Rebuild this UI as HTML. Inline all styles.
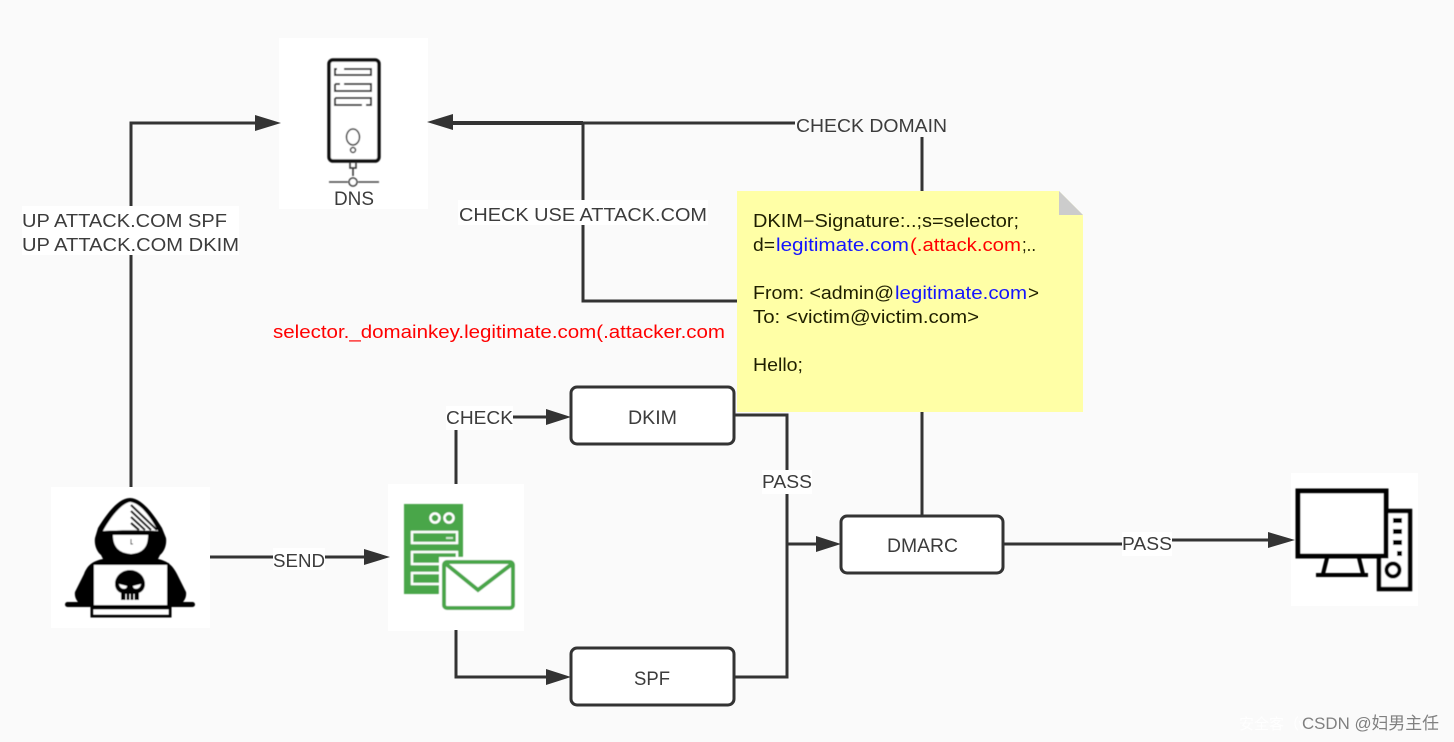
<!DOCTYPE html>
<html>
<head>
<meta charset="utf-8">
<style>
html,body{margin:0;padding:0;background:#fafafa;width:1454px;height:742px;overflow:hidden}
svg{display:block}
text{font-family:"Liberation Sans","Noto Sans CJK SC",sans-serif;font-size:18px;fill:#3c3c3c}
.l{fill:none;stroke:#333;stroke-width:3}
.b{fill:#fff;stroke:#333;stroke-width:3}
.n{fill:#1f1f00}
.u{fill:#1414ff}
.r{fill:#f00}
</style>
</head>
<body>
<svg width="1454" height="742" viewBox="0 0 1454 742" xmlns="http://www.w3.org/2000/svg">
<defs><filter id="s" x="-5%" y="-5%" width="110%" height="110%"><feGaussianBlur stdDeviation="0.45"/></filter></defs>
<rect width="1454" height="742" fill="#fafafa"/>

<!-- image backgrounds -->
<rect x="279" y="38" width="149" height="171" fill="#fff"/>
<rect x="51" y="487" width="159" height="141" fill="#fff"/>
<rect x="388" y="484" width="136" height="147" fill="#fff"/>
<rect x="1291" y="473" width="127" height="133" fill="#fff"/>

<!-- connectors -->
<path class="l" d="M131 487V123H258"/>
<path d="M281 123L255 115V131Z" fill="#333"/>
<path class="l" d="M922 191V123H450"/>
<path class="l" d="M737 301H583V123"/>
<path d="M583 123H450" stroke="#333" stroke-width="4" fill="none"/>
<path d="M427 122L453 114V130Z" fill="#333"/>
<path class="l" d="M210 557H368"/>
<path d="M390 557L364 549V565Z" fill="#333"/>
<path class="l" d="M456 484V417H550"/>
<path d="M571 417L546 409V425Z" fill="#333"/>
<path class="l" d="M456 630V677H550"/>
<path d="M571 677L546 669V685Z" fill="#333"/>
<path class="l" d="M734 415H787V677H734"/>
<path class="l" d="M787 544H820"/>
<path d="M841 544L816 536V552Z" fill="#333"/>
<path class="l" d="M922 412V516"/>
<path class="l" d="M1003 544H1147M1147 540H1272"/>
<path d="M1295 540L1268 532V548Z" fill="#333"/>

<!-- boxes -->
<rect class="b" x="571" y="387" width="163" height="57" rx="6"/>
<rect class="b" x="571" y="648" width="163" height="57" rx="6"/>
<rect class="b" x="841" y="516" width="162" height="57" rx="6"/>
<text x="628" y="424" textLength="49" lengthAdjust="spacingAndGlyphs" style="font-size:19px">DKIM</text>
<text x="634" y="685" textLength="36" lengthAdjust="spacingAndGlyphs" style="font-size:19px">SPF</text>
<text x="887" y="552" textLength="71" lengthAdjust="spacingAndGlyphs" style="font-size:19px">DMARC</text>

<!-- note -->
<path d="M737 191H1059L1083 215V412H737Z" fill="#ffffa6"/>
<path d="M1059 191L1083 215H1059Z" fill="#ccc"/>
<text class="n" x="753" y="227" textLength="266" lengthAdjust="spacingAndGlyphs">DKIM−Signature:..;s=selector;</text>
<text class="n" x="753" y="251" textLength="22" lengthAdjust="spacingAndGlyphs">d=</text>
<text class="u" x="776" y="251" textLength="133" lengthAdjust="spacingAndGlyphs">legitimate.com</text>
<text class="r" x="910" y="251" textLength="111" lengthAdjust="spacingAndGlyphs">(.attack.com</text>
<text class="n" x="1022" y="251" textLength="14" lengthAdjust="spacingAndGlyphs">;..</text>
<text class="n" x="753" y="299" textLength="141" lengthAdjust="spacingAndGlyphs">From: &lt;admin@</text>
<text class="u" x="895" y="299" textLength="132" lengthAdjust="spacingAndGlyphs">legitimate.com</text>
<text class="n" x="1028" y="299" textLength="11" lengthAdjust="spacingAndGlyphs">&gt;</text>
<text class="n" x="753" y="323" textLength="226" lengthAdjust="spacingAndGlyphs">To: &lt;victim@victim.com&gt;</text>
<text class="n" x="753" y="371" textLength="50" lengthAdjust="spacingAndGlyphs">Hello;</text>

<!-- labels -->
<rect x="795" y="113" width="153" height="24" fill="#fafafa"/>
<text x="796" y="132" textLength="151" lengthAdjust="spacingAndGlyphs">CHECK DOMAIN</text>
<rect x="458" y="200" width="250" height="25" fill="#fff"/>
<text x="459" y="221" textLength="248" lengthAdjust="spacingAndGlyphs">CHECK USE ATTACK.COM</text>
<rect x="22" y="206" width="217" height="49" fill="#fff"/>
<text x="22" y="227" textLength="205" lengthAdjust="spacingAndGlyphs">UP ATTACK.COM SPF</text>
<text x="22" y="251" textLength="217" lengthAdjust="spacingAndGlyphs">UP ATTACK.COM DKIM</text>
<text class="r" x="273" y="338" textLength="452" lengthAdjust="spacingAndGlyphs">selector._domainkey.legitimate.com(.attacker.com</text>
<rect x="446" y="406" width="67" height="24" fill="#fff"/>
<text x="446" y="424" textLength="67" lengthAdjust="spacingAndGlyphs">CHECK</text>
<rect x="273" y="548" width="52" height="22" fill="#fff"/>
<text x="273" y="567" textLength="52" lengthAdjust="spacingAndGlyphs">SEND</text>
<rect x="762" y="470" width="50" height="24" fill="#fff"/>
<text x="762" y="488" textLength="50" lengthAdjust="spacingAndGlyphs">PASS</text>
<rect x="1122" y="532" width="50" height="24" fill="#fff"/>
<text x="1122" y="550" textLength="50" lengthAdjust="spacingAndGlyphs">PASS</text>

<!-- DNS icon -->
<g filter="url(#s)">
<rect x="329" y="60" width="50" height="101" rx="4" fill="#fff" stroke="#111" stroke-width="3.5"/>
<path d="M344 69H371V75H335V69H337M335 84H340M344 84H371V91H335V84M335 98V105H362M366 105H371V98H335" fill="none" stroke="#333" stroke-width="2"/>
<ellipse cx="353" cy="137" rx="6.5" ry="8" fill="#fff" stroke="#333" stroke-width="1.5"/>
<circle cx="353" cy="150" r="2.5" fill="#fff" stroke="#333" stroke-width="1.5"/>
<path d="M350 162V168H356V162M353 168V176" fill="none" stroke="#333" stroke-width="1.5"/>
<path d="M329 182H348M358 182H379" stroke="#444" stroke-width="1.5"/>
<circle cx="353" cy="182" r="4" fill="#fff" stroke="#333" stroke-width="1.5"/>
</g>
<text x="334" y="205" textLength="40" lengthAdjust="spacingAndGlyphs" style="font-size:19px">DNS</text>

<!-- hacker icon -->
<g filter="url(#s)">
<path d="M130 498C118 498 106 515 98 528L95 538C94 545 97 552 101 555L103 559C92 561 87 566 84 574L75 592C74 598 78 604 85 607H176C183 604 187 598 186 592L177 574C173 566 168 561 158 559L160 555C164 552 167 545 166 538L162 528C154 515 142 498 130 498Z" fill="#000"/>
<path d="M130 502C120 504 109 520 103 531C120 530 140 530 158 531C151 518 141 503 130 502Z" fill="#fff"/>
<path d="M131 505L157 530M131 511L151 530M131 517L145 530M131 523L139 530" stroke="#000" stroke-width="2.2" fill="none"/>
<path d="M113 535H148C148 548 142 553 131 554C120 553 113 548 113 535Z" fill="#fff"/>
<path d="M131 539V544H133" stroke="#000" stroke-width="1" fill="none"/>
<rect x="65" y="602" width="130" height="5" rx="2.5" fill="#000"/>
<rect x="93" y="564" width="75" height="42" fill="#fff" stroke="#000" stroke-width="2"/>
<rect x="92" y="608" width="78" height="8" fill="#fff" stroke="#000" stroke-width="3"/>
<path d="M130 570C122 570 115 576 115 584C115 589 118 592 121 593V600H139V593C142 592 145 589 145 584C145 576 138 570 130 570Z" fill="#000"/>
<path d="M119 584L127 586C127 590 120 590 119 584ZM141 584L133 586C133 590 140 590 141 584Z" fill="#fff"/>
<path d="M126 594V600M130 594V600M134 594V600" stroke="#fff" stroke-width="1"/>
</g>

<!-- mail server icon -->
<g filter="url(#s)">
<rect x="404" y="504" width="59" height="90" fill="#4aa64a"/>
<circle cx="435" cy="518" r="4.5" fill="#4aa64a" stroke="#fff" stroke-width="2.5"/>
<circle cx="449" cy="518" r="4.5" fill="#4aa64a" stroke="#fff" stroke-width="2.5"/>
<rect x="412" y="532" width="45" height="11" fill="none" stroke="#fff" stroke-width="2.5"/>
<rect x="412" y="552" width="45" height="12" fill="none" stroke="#fff" stroke-width="2.5"/>
<rect x="412" y="573" width="45" height="11" fill="none" stroke="#fff" stroke-width="2.5"/>
<rect x="446" y="537" width="7" height="2" fill="#cfe8cf"/>
<rect x="439" y="557" width="80" height="57" fill="#fff"/>
<rect x="444" y="562" width="69" height="46" rx="3" fill="#fff" stroke="#4aa64a" stroke-width="4"/>
<path d="M446 564L478 590L512 564" fill="none" stroke="#4aa64a" stroke-width="4"/>
</g>

<!-- PC icon -->
<g filter="url(#s)">
<rect x="1379" y="511" width="31" height="78" fill="#fff" stroke="#000" stroke-width="4.5"/>
<rect x="1298" y="491" width="88" height="65" fill="#fff" stroke="#000" stroke-width="5"/>
<path d="M1327 558L1323 574M1359 558L1363 574" stroke="#000" stroke-width="4"/>
<path d="M1316 575H1368" stroke="#000" stroke-width="4"/>
<rect x="1393" y="518" width="9" height="5" fill="#000"/>
<rect x="1393" y="529" width="9" height="5" fill="#000"/>
<rect x="1393" y="540" width="9" height="5" fill="#000"/>
<rect x="1397" y="551" width="5" height="5" fill="#000"/>
<circle cx="1393" cy="570" r="6.5" fill="#fff" stroke="#000" stroke-width="4"/>
</g>

<!-- watermark -->
<text x="1239" y="729" style="font-size:15px;fill:#fff">安全客（w</text>
<text x="1302" y="729" style="font-size:17px;fill:#808080" textLength="137" lengthAdjust="spacingAndGlyphs">CSDN @妇男主任</text>
</svg>
</body>
</html>
